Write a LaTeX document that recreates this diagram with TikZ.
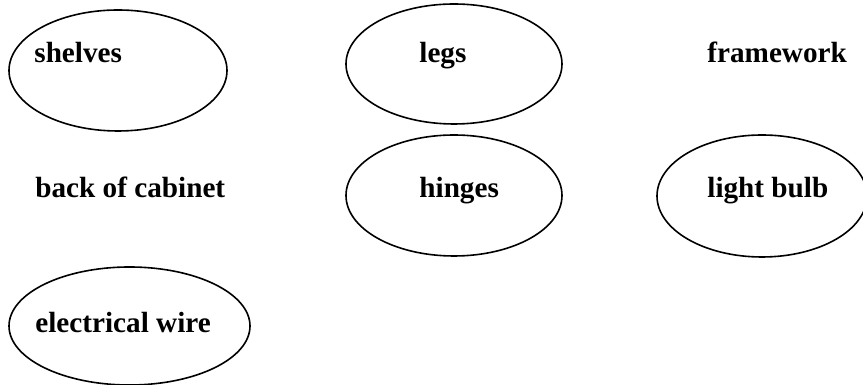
\documentclass[tikz,border=0pt]{standalone}
\usepackage{fontspec}
\setmainfont{Liberation Serif}
\usetikzlibrary{shapes.geometric}

\tikzset{
  part/.style={ellipse, draw, line width=.8pt, inner sep=0pt},
  word/.style={anchor=base west, inner sep=0pt, font=\fontsize{14.6}{17}\selectfont\bfseries}
}

\begin{document}
\begin{tikzpicture}[x=.5pt, y=.5pt]
  	\begin{scope}
   	\useasboundingbox (0, 0) rectangle (863, 385);

   	\node[part, minimum width=109pt, minimum height=60.5pt] (shelvesE) at (118, 314.5) {};
   	\node[part, minimum width=108pt, minimum height=60pt] (legsE) at (454, 321) {};
   	\node[part, minimum width=108pt, minimum height=60.5pt] (hingesE) at (454, 189.5) {};
   	\node[part, minimum width=105pt, minimum height=61pt] (bulbE) at (762, 189) {};
   	\node[part, minimum width=120.5pt, minimum height=59pt] (wireE) at (129.5, 59) {};

   	\node[word] (shelves) at (34, 322) {shelves};
   	\node[word] (legs) at (419, 322) {legs};
   	\node[word] (framework) at (707, 322) {framework};

   	\node[word] (back) at (35, 187) {back of cabinet};
   	\node[word] (hinges) at (419, 187) {hinges};
   	\node[word] (bulb) at (707, 187) {light bulb};

   	\node[word] (wire) at (35, 52) {electrical wire};

  	\end{scope}
\end{tikzpicture}
\end{document}
